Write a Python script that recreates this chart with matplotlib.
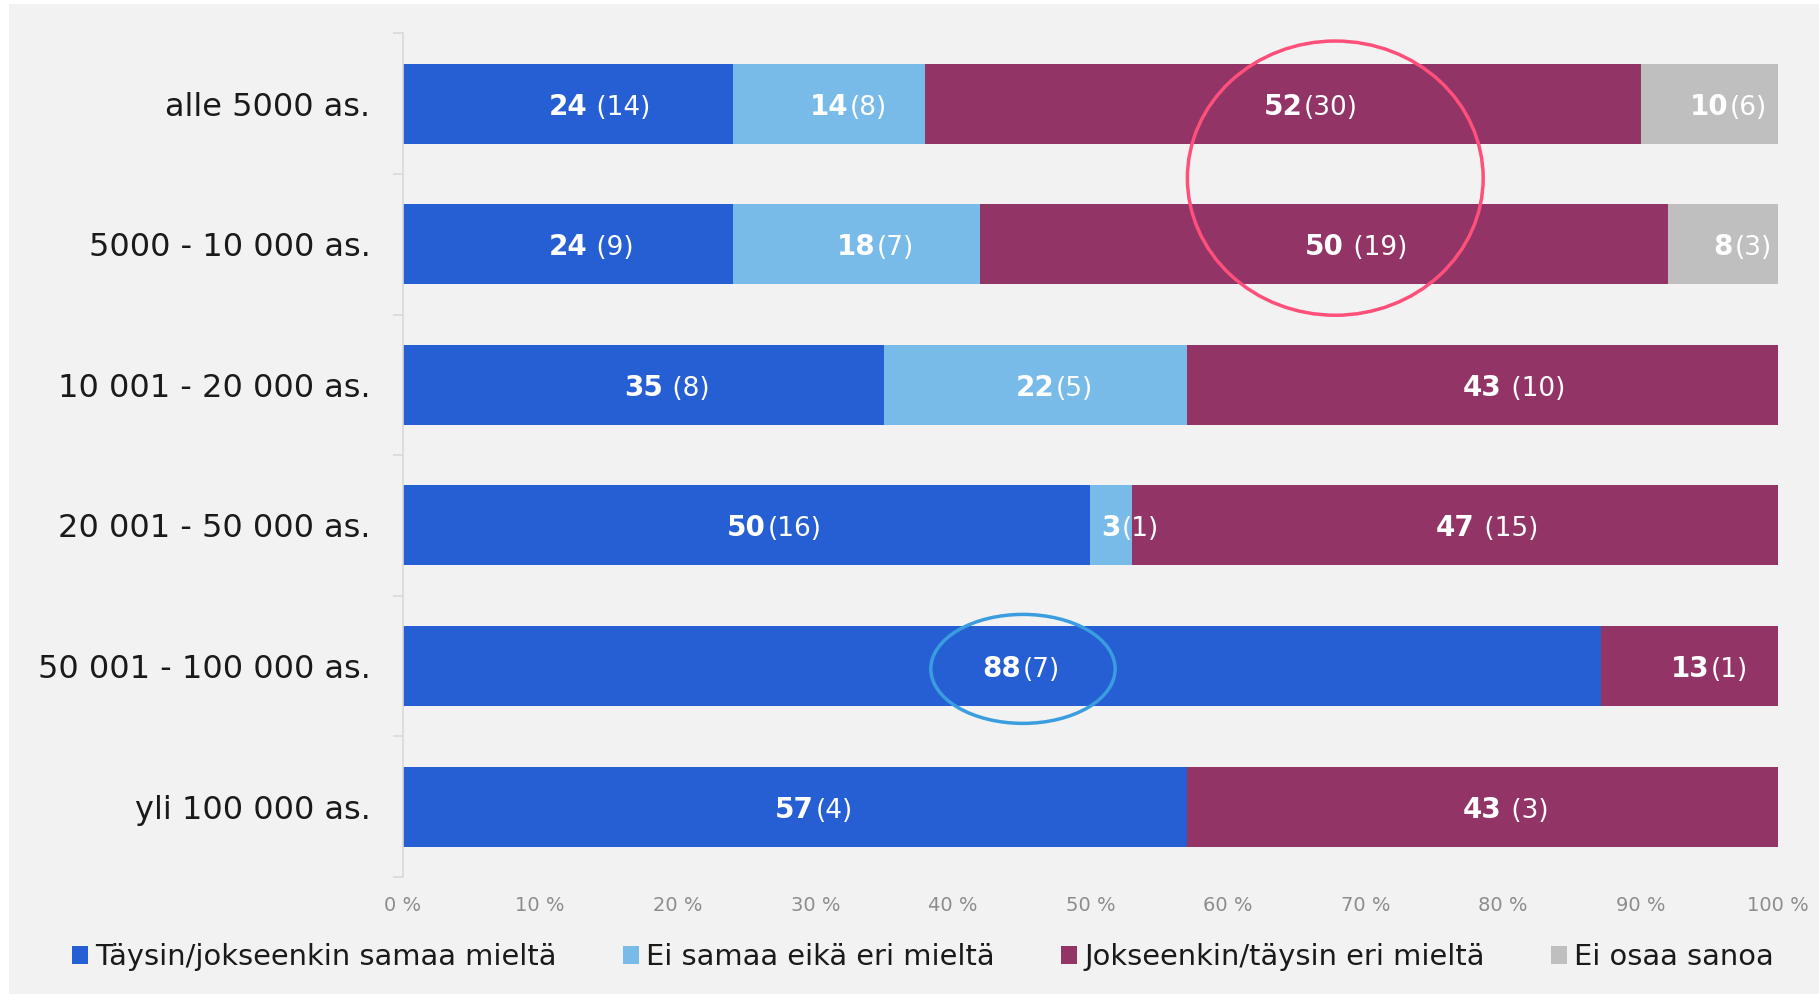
import matplotlib
matplotlib.use("Agg")
import matplotlib.pyplot as plt
from matplotlib.patches import Ellipse, Patch, Rectangle
from matplotlib.ticker import FixedLocator
import numpy as np

categories = ["alle 5000 as.", "5000 - 10 000 as.", "10 001 - 20 000 as.",
              "20 001 - 50 000 as.", "50 001 - 100 000 as.", "yli 100 000 as."]
series = ["Täysin/jokseenkin samaa mieltä", "Ei samaa eikä eri mieltä",
          "Jokseenkin/täysin eri mieltä", "Ei osaa sanoa"]

# respondent counts per answer (shown in brackets)
samaa_n = [14, 9, 8, 16, 7, 4]
neutral_n = [8, 7, 5, 1, 0, 0]
eri_n = [30, 19, 10, 15, 1, 3]
eos_n = [6, 3, 0, 0, 0, 0]

# percent values as printed on the bars
samaa_pct = [24, 24, 35, 50, 88, 57]
neutral_pct = [14, 18, 22, 3, 0, 0]
eri_pct = [52, 50, 43, 47, 13, 43]
eos_pct = [10, 8, 0, 0, 0, 0]

colors = ["#265ed3", "#78bae8", "#923466", "#bfbfbf"]
BG = "#f2f2f2"

# labels that have a space between the number and the bracket
spaced = {(0, 0), (1, 0), (1, 2), (2, 0), (2, 2), (3, 2), (5, 2)}

counts = np.array([samaa_n, neutral_n, eri_n, eos_n])
pcts = np.array([samaa_pct, neutral_pct, eri_pct, eos_pct], dtype=float)
# bars are stretched to fill 100 % (rounded values may add up to 101)
shares = pcts / pcts.sum(axis=0) * 100

fig = plt.figure(figsize=(18.19, 9.94), dpi=100)
fig.patch.set_facecolor("white")
fig.patches.append(Rectangle((9 / 1819, 0), 1, 1 - 4 / 994, transform=fig.transFigure,
                             facecolor=BG, edgecolor="none", zorder=-10))

ax = fig.add_axes([0.2213, 0.1177, 0.7563, 0.8488])
ax.patch.set_alpha(0)

y = np.arange(len(categories))
left = np.zeros(len(categories))
for s in range(4):
    ax.barh(y, shares[s], left=left, height=0.569, color=colors[s], linewidth=0)
    for i in range(len(categories)):
        if counts[s][i] == 0:
            continue
        cx = left[i] + shares[s][i] / 2
        bold = ax.text(cx, y[i], "%d" % pcts[s][i], ha="center", va="center_baseline",
                       color="white", fontsize=20, fontweight="bold",
                       family="DejaVu Sans")
        txt = (" (%d)" if (i, s) in spaced else "(%d)") % counts[s][i]
        ax.annotate(txt, xy=(1, 0), xycoords=bold, xytext=(1, 0),
                    textcoords="offset points", ha="left", va="bottom",
                    color="white", fontsize=19, family="DejaVu Sans")
    left += shares[s]

ax.set_xlim(0, 100)
ax.set_ylim(5.5, -0.5)
ax.set_xticks(np.arange(0, 101, 10))
ax.set_xticklabels(["%d %%" % v for v in range(0, 101, 10)])
ax.tick_params(axis="x", length=0, pad=14, labelsize=14, labelcolor="#8c8c8c")

ax.set_yticks(y)
ax.set_yticklabels(categories)
ax.tick_params(axis="y", which="major", length=0, pad=23, labelsize=23,
               labelcolor="#1a1a1a")
ax.yaxis.set_minor_locator(FixedLocator(np.arange(-0.5, 6, 1)))
ax.tick_params(axis="y", which="minor", length=7, width=1.2, color="#d9d9d9")

for side in ["top", "right", "bottom"]:
    ax.spines[side].set_visible(False)
ax.spines["left"].set_color("#d9d9d9")
ax.spines["left"].set_linewidth(1.2)

# highlight circles
ax.add_patch(Ellipse((67.8, 0.53), 21.5, 1.95, fill=False, edgecolor="#ff4f7b",
                     linewidth=2.5, zorder=5, clip_on=False))
ax.add_patch(Ellipse((45.1, 4.02), 13.4, 0.775, fill=False, edgecolor="#3a9de0",
                     linewidth=2.5, zorder=5, clip_on=False))

handles = [Patch(facecolor=c, edgecolor="none") for c in colors]
fig.legend(handles, series, loc="center", bbox_to_anchor=(0.5074, 0.037), ncol=4,
           frameon=False, fontsize=20.8, handlelength=0.55, handleheight=0.6,
           handletextpad=0.25, columnspacing=2.3, labelcolor="#1a1a1a")

fig.savefig("out.png", dpi=100, facecolor=fig.get_facecolor())
